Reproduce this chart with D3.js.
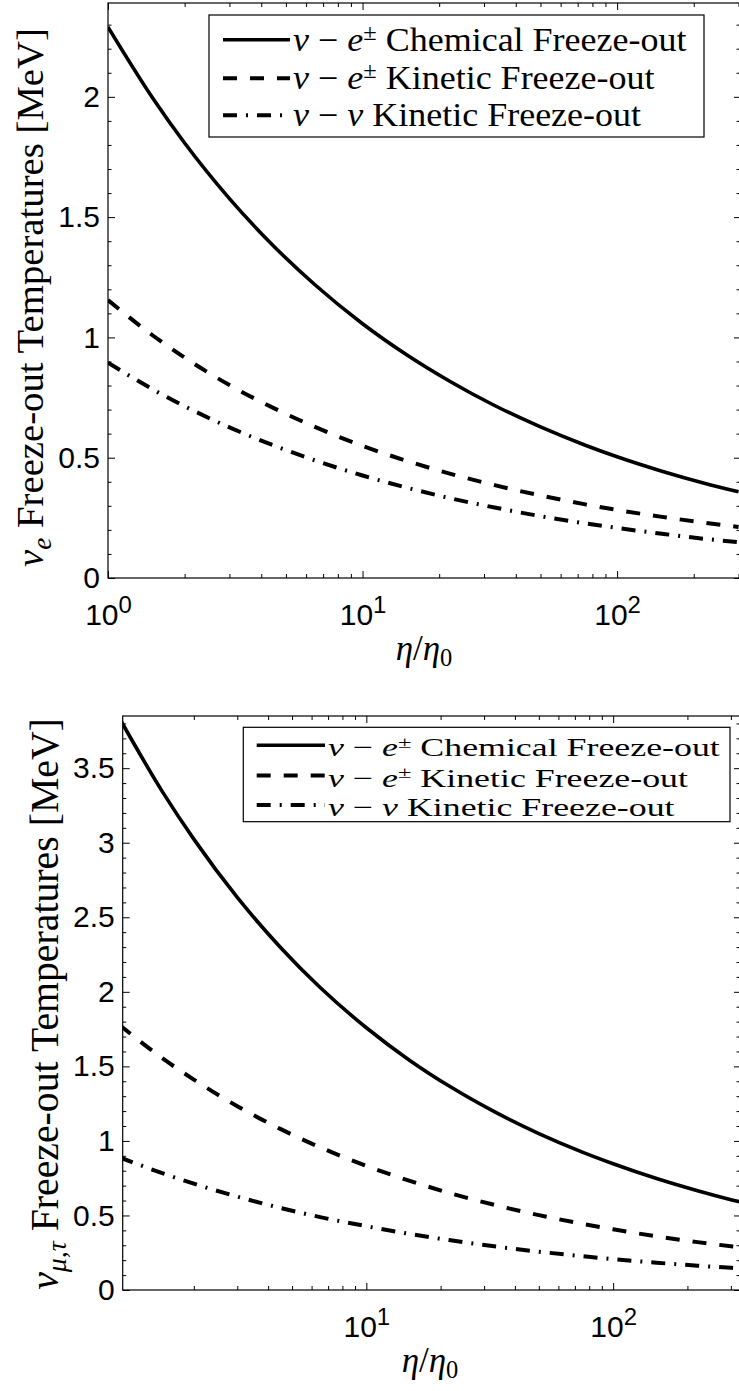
<!DOCTYPE html>
<html><head><meta charset="utf-8">
<script src="https://cdn.jsdelivr.net/npm/d3@7"></script>
<style>body{margin:0;background:#fff} svg{display:block}</style>
</head><body>
<svg id="chart" width="739" height="1391"></svg>
<script>
// ---------- data (hand-smoothed) ----------
const etaE = [1, 1.5, 2, 3, 4.5, 6.5, 10, 15, 22, 33, 50, 75, 100, 150, 220, 300];
const eChemical = [2.29, 1.994, 1.808, 1.577, 1.377, 1.219, 1.057, 0.926, 0.818, 0.717, 0.628, 0.552, 0.504, 0.444, 0.394, 0.358];
const eKinetic  = [1.155, 1.008, 0.916, 0.802, 0.705, 0.628, 0.549, 0.486, 0.434, 0.386, 0.343, 0.306, 0.283, 0.254, 0.230, 0.212];
const eNuNu     = [0.895, 0.784, 0.714, 0.626, 0.550, 0.489, 0.426, 0.375, 0.332, 0.293, 0.257, 0.227, 0.208, 0.184, 0.163, 0.149];

const etaMuTau = [1, 1.5, 2, 3, 4.5, 6.5, 10, 15, 22, 33, 50, 75, 100, 150, 220, 300, 330];
const muChemical = [3.834, 3.336, 3.024, 2.633, 2.296, 2.029, 1.759, 1.540, 1.361, 1.196, 1.049, 0.925, 0.847, 0.748, 0.666, 0.606, 0.589];
const muKinetic  = [1.777, 1.552, 1.411, 1.233, 1.079, 0.957, 0.833, 0.732, 0.648, 0.571, 0.502, 0.444, 0.407, 0.360, 0.321, 0.293, 0.284];
const muNuNu     = [0.89, 0.782, 0.713, 0.626, 0.550, 0.489, 0.428, 0.376, 0.333, 0.293, 0.257, 0.227, 0.207, 0.183, 0.163, 0.149, 0.145];

const xMajorTicks = [1, 10, 100];
const xMinorTicks = [2,3,4,5,6,7,8,9,20,30,40,50,60,70,80,90,200,300];
const yTicksE  = [0, 0.5, 1, 1.5, 2];
const yTicksMu = [0, 0.5, 1, 1.5, 2, 2.5, 3, 3.5];
const seriesRest = [" Chemical Freeze-out", " Kinetic Freeze-out", " Kinetic Freeze-out"];
const dashStyles = [null, "14,13", "14,9,2,9"];

const svg = d3.select("#chart");
const SANS = "'Liberation Sans', Arial, Helvetica, sans-serif";
const SERIF = "'Liberation Serif', 'Times New Roman', serif";

function legendLabel(t, i, fs) {
  t.append("tspan").attr("font-style", "italic").text("ν");
  t.append("tspan").text(" − ");
  if (i < 2) {
    t.append("tspan").attr("font-style", "italic").text("e");
    t.append("tspan").attr("font-size", 0.68 * fs).attr("dy", -0.33 * fs).text("±");
    t.append("tspan").attr("dy", 0.33 * fs).text(seriesRest[i]);
  } else {
    t.append("tspan").attr("font-style", "italic").text("ν");
    t.append("tspan").text(seriesRest[i]);
  }
}

function fit(sel, target) {
  const len = sel.node().getComputedTextLength();
  const fs = parseFloat(sel.attr("font-size"));
  sel.attr("font-size", fs * target / len);
}

function panel(cfg, id) {
  const x = d3.scaleLog().domain(cfg.xDomain).range([cfg.left, cfg.right]);
  const y = d3.scaleLinear().domain(cfg.yDomain).range([cfg.bottom, cfg.top]);
  const g = svg.append("g");

  g.append("clipPath").attr("id", "clip" + id).append("rect")
    .attr("x", cfg.left).attr("y", cfg.top)
    .attr("width", cfg.right - cfg.left).attr("height", cfg.bottom - cfg.top);

  const yMinor = d3.range(0, cfg.yDomain[1] + 1e-9, 0.1).map(v => +v.toFixed(2))
    .filter(v => !cfg.yTicks.some(t => Math.abs(t - v) < 1e-6));
  const xMin = xMinorTicks.filter(v => v > cfg.xDomain[0] && v < cfg.xDomain[1]);
  const xMaj = xMajorTicks.filter(v => v >= cfg.xDomain[0] && v <= cfg.xDomain[1]);

  const styleAxis = a => {
    a.select(".domain").remove();
    a.selectAll("line").attr("stroke", "#000").attr("stroke-width", 1);
  };
  // minor ticks on all sides
  g.append("g").attr("transform", `translate(0,${cfg.bottom})`)
    .call(d3.axisBottom(x).tickValues(xMin).tickSizeInner(-4).tickSizeOuter(0).tickFormat(""))
    .call(styleAxis);
  g.append("g").attr("transform", `translate(0,${cfg.top})`)
    .call(d3.axisTop(x).tickValues(xMin).tickSizeInner(-4).tickSizeOuter(0).tickFormat(""))
    .call(styleAxis);
  g.append("g").attr("transform", `translate(${cfg.left},0)`)
    .call(d3.axisLeft(y).tickValues(yMinor).tickSizeInner(-3.5).tickSizeOuter(0).tickFormat(""))
    .call(styleAxis);
  g.append("g").attr("transform", `translate(${cfg.right},0)`)
    .call(d3.axisRight(y).tickValues(yMinor).tickSizeInner(-4.5).tickSizeOuter(0).tickFormat(""))
    .call(styleAxis);
  // major ticks
  const xb = g.append("g").attr("transform", `translate(0,${cfg.bottom})`)
    .call(d3.axisBottom(x).tickValues(xMaj).tickSizeInner(-7).tickSizeOuter(0).tickPadding(25.7)
      .tickFormat(d => d))
    .call(styleAxis);
  xb.selectAll("text").attr("font-family", SANS).attr("font-size", 30).attr("fill", "#000")
    .each(function(d) {
      const t = d3.select(this);
      t.text(null);
      t.append("tspan").text("10");
      t.append("tspan").attr("font-size", 24).attr("dy", -12).text(Math.round(Math.log10(d)));
    });
  g.append("g").attr("transform", `translate(0,${cfg.top})`)
    .call(d3.axisTop(x).tickValues(xMaj).tickSizeInner(-7).tickSizeOuter(0).tickFormat(""))
    .call(styleAxis);
  const yl = g.append("g").attr("transform", `translate(${cfg.left},0)`)
    .call(d3.axisLeft(y).tickValues(cfg.yTicks).tickSizeInner(-7).tickSizeOuter(0).tickPadding(8)
      .tickFormat(d3.format("~g")))
    .call(styleAxis);
  yl.selectAll("text").attr("font-family", SANS).attr("font-size", 30).attr("fill", "#000");
  g.append("g").attr("transform", `translate(${cfg.right},0)`)
    .call(d3.axisRight(y).tickValues(cfg.yTicks).tickSizeInner(-7).tickSizeOuter(0).tickFormat(""))
    .call(styleAxis);

  // curves
  const line = d3.line().x(d => x(d[0])).y(d => y(d[1])).curve(d3.curveMonotoneX);
  const lines = g.append("g").attr("clip-path", `url(#clip${id})`);
  cfg.series.forEach((vals, i) => {
    lines.append("path")
      .datum(cfg.eta.map((e, k) => [e, vals[k]]))
      .attr("d", line)
      .attr("fill", "none").attr("stroke", "#000")
      .attr("stroke-width", i === 0 ? 3.6 : 4)
      .attr("stroke-dasharray", dashStyles[i]);
  });

  // frame
  g.append("rect").attr("x", cfg.left).attr("y", cfg.top)
    .attr("width", cfg.right - cfg.left).attr("height", cfg.bottom - cfg.top)
    .attr("fill", "none").attr("stroke", "#000").attr("stroke-width", 1.2);

  // legend
  const L = cfg.legend;
  const lg = g.append("g");
  lg.append("rect").attr("x", L.box[0]).attr("y", L.box[1])
    .attr("width", L.box[2] - L.box[0]).attr("height", L.box[3] - L.box[1])
    .attr("fill", "#fff").attr("stroke", "#000").attr("stroke-width", 1.2);
  const texts = [];
  L.baselines.forEach((b, i) => {
    lg.append("line").attr("x1", L.lineX[0]).attr("x2", L.lineX[1])
      .attr("y1", b - 11).attr("y2", b - 11)
      .attr("stroke", "#000").attr("stroke-width", i === 0 ? 3.6 : 4)
      .attr("stroke-dasharray", dashStyles[i]);
    const t = lg.append("text").attr("x", 0).attr("y", 0)
      .attr("transform", `translate(${L.textX},${b})`)
      .attr("font-family", SERIF).attr("font-size", L.fs).attr("fill", "#000");
    legendLabel(t, i, L.fs);
    texts.push({ t, b });
  });
  const sx = L.textWidth / texts[0].t.node().getComputedTextLength();
  texts.forEach(({ t, b }) => t.attr("transform", `translate(${L.textX},${b}) scale(${sx},1)`));

  // y label
  const yt = g.append("text")
    .attr("transform", `translate(${cfg.ylabel.x},${cfg.ylabel.cy}) rotate(-90)`)
    .attr("text-anchor", "middle").attr("font-family", SERIF).attr("font-size", 30).attr("fill", "#000");
  yt.append("tspan").attr("font-style", "italic").text("ν");
  yt.append("tspan").attr("font-style", "italic").attr("font-size", "0.7em").attr("dy", "0.3em").text(cfg.ylabel.sub);
  yt.append("tspan").attr("dy", "-0.21em").text(" Freeze-out Temperatures [MeV]");
  fit(yt, cfg.ylabel.len);

  // x label
  const xt = g.append("text").attr("x", cfg.xlabel.cx).attr("y", cfg.xlabel.y)
    .attr("text-anchor", "middle").attr("font-family", SERIF).attr("font-size", 35).attr("fill", "#000");
  xt.append("tspan").attr("font-style", "italic").text("η");
  xt.append("tspan").text("/");
  xt.append("tspan").attr("font-style", "italic").text("η");
  xt.append("tspan").attr("font-size", "0.7em").attr("dy", "0.25em").text("0");
}

panel({
  left: 108, right: 741, top: 3, bottom: 578,
  xDomain: [1, 306.7], yDomain: [0, 2.39], yTicks: yTicksE,
  eta: etaE, series: [eChemical, eKinetic, eNuNu],
  legend: { box: [209, 15, 704, 137], lineX: [223, 290], textX: 293, baselines: [50.7, 89.3, 126.2], textWidth: 393.7, fs: 33 },
  ylabel: { x: 43, cy: 297.5, len: 539, sub: "e" },
  xlabel: { cx: 424, y: 660 }
}, 0);

panel({
  left: 122.7, right: 741, top: 716, bottom: 1290,
  xDomain: [1.03, 329.7], yDomain: [0, 3.85], yTicks: yTicksMu,
  eta: etaMuTau, series: [muChemical, muKinetic, muNuNu],
  legend: { box: [243.3, 727.3, 730, 821.7], lineX: [256.7, 325], textX: 328, baselines: [756.3, 786.5, 816], textWidth: 392, fs: 26 },
  ylabel: { x: 57.5, cy: 1004, len: 572, sub: "μ,τ" },
  xlabel: { cx: 430, y: 1372 }
}, 1);
</script>
</body></html>
